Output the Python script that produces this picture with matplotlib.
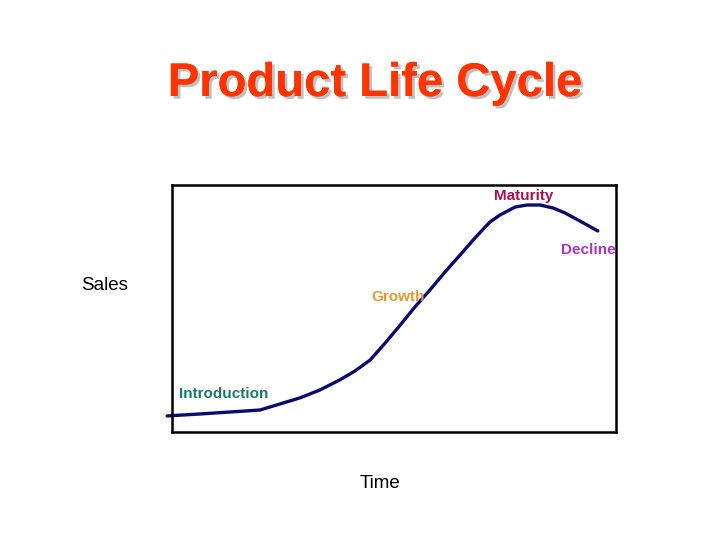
import matplotlib
matplotlib.use("Agg")
import matplotlib.pyplot as plt
import matplotlib.patheffects as pe

time = [-1.1, 6.3, 13.1, 19.8, 28.8, 33.3, 37.8, 41.2, 44.6, 48.0, 51.4, 54.7, 58.1, 61.5,
        64.9, 68.2, 71.6, 73.9, 77.3, 80.0, 82.9, 85.8, 88.5, 91.9, 95.9]
sales = [6.5, 7.3, 8.1, 8.9, 13.8, 17.0, 21.1, 24.7, 29.1, 36.0, 43.3, 50.6, 57.5, 64.8,
         71.7, 78.5, 85.0, 87.9, 91.1, 91.9, 91.9, 90.7, 88.7, 85.4, 81.4]
stages = ["Introduction", "Growth", "Maturity", "Decline"]
stage_x = [1.5, 45.0, 72.5, 87.5]
stage_y = [15.5, 54.5, 95.5, 73.5]
stage_colors = ["#1a7a70", "#e89a30", "#b0104a", "#b030c8"]

fig = plt.figure(figsize=(7.2, 5.4), dpi=100)
ax = fig.add_axes([172/720, 108/540, 444/720, 247/540])
ax.plot(time, sales, color="#0a0a70", lw=2.4, clip_on=False, solid_capstyle="round",
        solid_joinstyle="round")
ax.set_xlim(0, 100)
ax.set_ylim(0, 100)
ax.set_xticks([]); ax.set_yticks([])
for s in ax.spines.values():
    s.set_linewidth(1.8); s.set_color("black")
for t, x, y, c in zip(stages, stage_x, stage_y, stage_colors):
    ax.text(x, y, t, color=c, fontsize=11, fontweight="bold", ha="left", va="center",
            family="Liberation Sans", clip_on=False)

fig.text(105/720, 1-286/540, "Sales", fontsize=13.5, ha="center", va="center", family="Liberation Sans")
fig.text(380/720, 1-484/540, "Time", fontsize=13.5, ha="center", va="center", family="Liberation Sans")
fig.text(375/720, 1-84/540, "Product Life Cycle", fontsize=34, fontweight="bold", color="#ff3300",
         ha="center", va="center", family="Liberation Sans",
         path_effects=[pe.withSimplePatchShadow(offset=(2, -2), shadow_rgbFace="#999999", alpha=0.6), pe.Normal()])
fig.savefig("out.png", dpi=100)
